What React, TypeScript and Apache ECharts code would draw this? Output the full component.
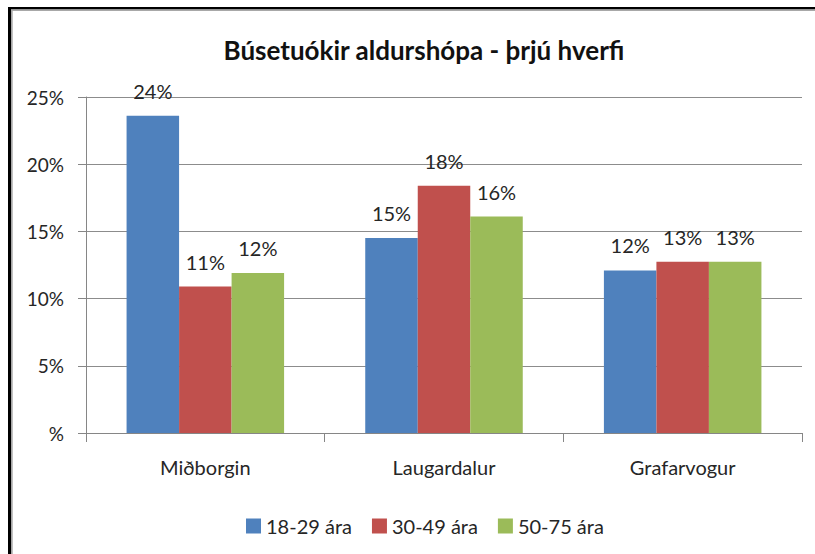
import React, { useEffect, useRef } from "react";
import * as echarts from "echarts";

const categories = ["Miðborgin", "Laugardalur", "Grafarvogur"];
const seriesNames = ["18-29 ára", "30-49 ára", "50-75 ára"];
const age18to29 = [23.6, 14.5, 12.1];
const age30to49 = [10.9, 18.4, 12.75];
const age50to75 = [11.9, 16.1, 12.75];
const colors = ["#4F81BD", "#C0504D", "#9BBB59"];
const titleText = "Búsetuókir aldurshópa - þrjú hverfi";

const FONT = "Lato, 'Liberation Sans', sans-serif";
const TEXT = "#262626";

export default function App() {
  const ref = useRef<HTMLDivElement>(null);
  useEffect(() => {
    if (!ref.current) return;
    const chart = echarts.init(ref.current, undefined, { renderer: "svg" });
    const values = [age18to29, age30to49, age50to75];
    const labelStyle = {
      show: true,
      position: "top" as const,
      distance: 15,
      fontFamily: FONT,
      fontSize: 20,
      color: TEXT,
      formatter: (p: any) => Math.round(p.value) + "%",
    };
    chart.setOption({
      animation: false,
      backgroundColor: "#ffffff",
      title: {
        text: titleText,
        left: 419,
        top: 32,
        textAlign: "center",
        textStyle: { fontFamily: FONT, fontSize: 26, fontWeight: "bold", color: "#111" },
      },
      legend: {
        data: seriesNames,
        left: 241,
        top: 511,
        itemWidth: 15,
        itemHeight: 15,
        itemGap: 20,
        icon: "rect",
        textStyle: { fontFamily: FONT, fontSize: 20, color: TEXT },
      },
      grid: { left: 86, right: 13, top: 97, bottom: 121, containLabel: false },
      xAxis: {
        type: "category",
        data: categories,
        axisLine: { show: true, lineStyle: { color: "#868686", width: 1 } },
        axisTick: { show: true, length: 9, lineStyle: { color: "#868686" } },
        axisLabel: { margin: 24, fontFamily: FONT, fontSize: 20, color: TEXT },
      },
      yAxis: {
        type: "value",
        min: 0,
        max: 25,
        interval: 5,
        axisLine: { show: true, lineStyle: { color: "#868686", width: 1 } },
        axisTick: { show: true, length: 8, lineStyle: { color: "#868686" } },
        splitLine: { show: true, lineStyle: { color: "#8c8c8c", width: 1 } },
        axisLabel: {
          margin: 22,
          fontFamily: FONT,
          fontSize: 19,
          color: TEXT,
          formatter: (v: number) => (v === 0 ? "%" : v + "%"),
        },
      },
      series: seriesNames.map((name, i) => ({
        name,
        type: "bar",
        data: values[i],
        barGap: "0%",
        barCategoryGap: "34%",
        itemStyle: { color: colors[i] },
        label: labelStyle,
      })),
      graphic: [
        { type: "rect", shape: { x: 8, y: 7, width: 807, height: 2.5 }, style: { fill: "#000" }, z: 100 },
        { type: "rect", shape: { x: 11, y: 9.5, width: 804, height: 1.5 }, style: { fill: "#a8a8a8" }, z: 100 },
        { type: "rect", shape: { x: 8, y: 7, width: 3, height: 547 }, style: { fill: "#000" }, z: 100 },
        { type: "rect", shape: { x: 11, y: 10, width: 1.7, height: 544 }, style: { fill: "#a8a8a8" }, z: 100 },
      ],
    });
    return () => chart.dispose();
  }, []);
  return (
    <div
      ref={ref}
      style={{ position: "fixed", left: 0, top: 0, width: 815, height: 554, background: "#fff" }}
    />
  );
}
